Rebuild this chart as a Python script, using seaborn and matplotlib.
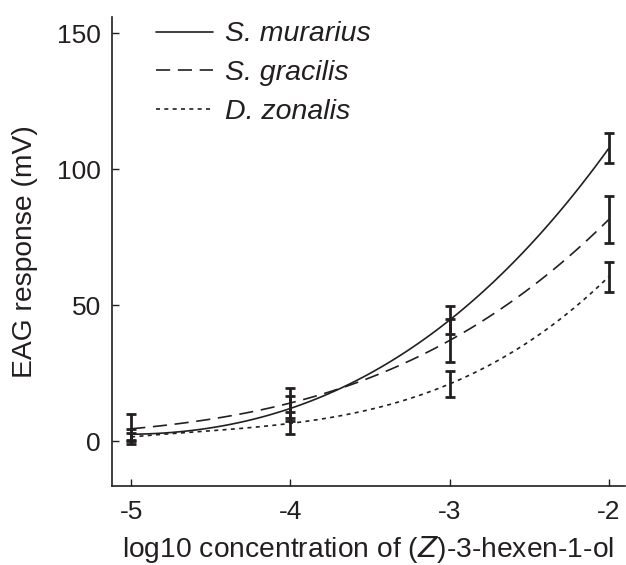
import numpy as np
import pandas as pd
import matplotlib
matplotlib.use("Agg")
import matplotlib.pyplot as plt
import seaborn as sns

# ---- data ----
log_conc = [-5, -4, -3, -2]
species = ["S. murarius", "S. gracilis", "D. zonalis"]
murarius_mean = [2.5, 12.0, 44.5, 107.7]
murarius_err = [2.0, 4.5, 5.2, 5.5]
gracilis_mean = [4.5, 14.0, 37.0, 81.5]
gracilis_err = [5.5, 5.5, 8.0, 8.5]
zonalis_mean = [1.5, 6.5, 21.0, 60.5]
zonalis_err = [1.5, 4.0, 4.8, 5.5]
y_ticks = [0, 50, 100, 150]
x_ticks = [-5, -4, -3, -2]

means = [murarius_mean, gracilis_mean, zonalis_mean]
errs = [murarius_err, gracilis_err, zonalis_err]
styles = ["-", (0, (8.5, 4.6)), (0, (2.4, 2.6))]

sns.set_theme(style="ticks")
plt.rcParams["font.family"] = ["Liberation Sans", "DejaVu Sans"]
ink = "#231f20"

fig = plt.figure(figsize=(6.26, 5.65), dpi=100)
ax = fig.add_axes([0.179, 0.140, 0.819, 0.830])

handles = []
for name, m, ls in zip(species, means, styles):
    df = pd.DataFrame({"x": log_conc, "y": m})
    n_before = len(ax.lines)
    sns.regplot(data=df, x="x", y="y", order=3, ci=None, scatter=False,
                truncate=True, ax=ax, color=ink,
                line_kws=dict(lw=1.2, ls=ls))
    line = ax.lines[n_before]
    line.set_label(name)
    handles.append(line)

for m, e in zip(means, errs):
    ax.errorbar(log_conc, m, yerr=e, fmt="none", ecolor=ink,
                elinewidth=2.0, capsize=3.8, capthick=2.0, zorder=5)

ax.set_xlim(-5.12, -1.9)
ax.set_ylim(-16.5, 156)
ax.set_xticks(x_ticks)
ax.set_xticklabels([str(t) for t in x_ticks])
ax.set_yticks(y_ticks)
ax.set_xlabel("log10 concentration of ($\\mathit{Z}$)-3-hexen-1-ol",
              fontsize=20.3, color=ink, labelpad=7)
ax.set_ylabel("EAG response (mV)", fontsize=20.3, color=ink, labelpad=14)
ax.tick_params(axis="both", direction="in", length=5, width=1.0,
               labelsize=19, colors=ink, pad=8)
ax.tick_params(axis="x", pad=10)
for s in ["top", "right"]:
    ax.spines[s].set_visible(False)
for s in ["left", "bottom"]:
    ax.spines[s].set_color(ink)
    ax.spines[s].set_linewidth(1.2)

leg = ax.legend(handles=handles, labels=species, loc="upper left",
                bbox_to_anchor=(0.035, 1.045), frameon=False,
                prop=dict(size=20.5, style="italic"), handlelength=2.0,
                handletextpad=0.45, labelspacing=0.45)
for t in leg.get_texts():
    t.set_color(ink)

fig.savefig("out.png", dpi=100)
